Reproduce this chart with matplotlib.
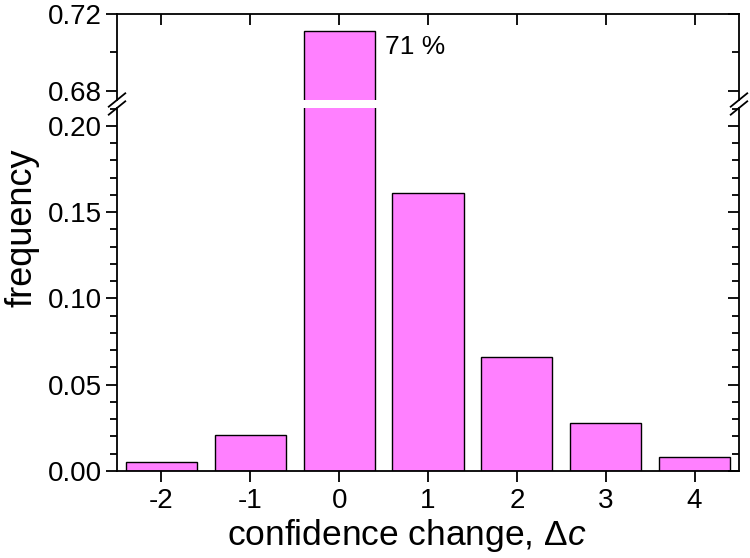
"""
Histogram of confidence change with a broken y axis.
"""
import matplotlib
matplotlib.use("Agg")
import matplotlib.pyplot as plt
from matplotlib.ticker import MultipleLocator, FormatStrFormatter
from matplotlib.lines import Line2D, TICKLEFT

# ─── Data ───────────────────────────────────────────────────────────────────
delta_c   = [-2, -1, 0, 1, 2, 3, 4]
frequency = [0.005, 0.021, 0.711, 0.161, 0.066, 0.028, 0.008]
peak_label = "71 %"

BAR_COLOR = "#FF80FF"

plt.rcParams["font.family"] = ["Liberation Sans", "DejaVu Sans"]
plt.rcParams["mathtext.fontset"] = "custom"
plt.rcParams["mathtext.rm"] = "Liberation Sans"
plt.rcParams["mathtext.it"] = "Liberation Sans:italic"

fig = plt.figure(figsize=(7.5, 5.58), dpi=100)
ax_top = fig.add_axes([0.156, 0.8208, 0.8293, 0.1541])
ax_bot = fig.add_axes([0.156, 0.1559, 0.8293, 0.6506])

for ax in (ax_top, ax_bot):
    ax.bar(delta_c, frequency, width=0.8, color=BAR_COLOR,
           edgecolor="black", linewidth=1)
    ax.set_xlim(-2.5, 4.5)
    for sp in ax.spines.values():
        sp.set_linewidth(1.3)
    ax.tick_params(axis="y", which="major", direction="out", length=8,
                   width=1.3, labelsize=20, right=True, pad=3)
    ax.tick_params(axis="y", which="minor", direction="out", length=5,
                   width=1.3, right=True)
    ax.yaxis.set_major_formatter(FormatStrFormatter("%.2f"))

# upper part
ax_top.set_ylim(0.6753, 0.72)
ax_top.set_yticks([0.68, 0.72])
ax_top.yaxis.set_minor_locator(MultipleLocator(0.02))
ax_top.spines["bottom"].set_visible(False)
ax_top.tick_params(axis="x", bottom=False, labelbottom=False, top=True,
                   direction="in", length=8, width=1.3)
ax_top.set_xticks(delta_c)
ax_top.text(0.52, 0.7029, peak_label, fontsize=19, ha="left", va="center")

# lower part
ax_bot.set_ylim(0, 0.2104)
ax_bot.set_yticks([0.00, 0.05, 0.10, 0.15, 0.20])
ax_bot.yaxis.set_minor_locator(MultipleLocator(0.01))
ax_bot.spines["top"].set_visible(False)
ax_bot.set_xticks(delta_c)
ax_bot.set_xticklabels([str(v) for v in delta_c])
ax_bot.tick_params(axis="x", direction="out", length=8, width=1.3,
                   labelsize=20, pad=4)

# right spine ticks point inwards
for ax in (ax_top, ax_bot):
    for t in ax.yaxis.get_major_ticks() + ax.yaxis.get_minor_ticks():
        t.tick2line.set_marker(TICKLEFT)

ax_bot.set_xlabel(r"confidence change, $\Delta\mathit{c}$", fontsize=25.5,
                  labelpad=0)
ax_bot.xaxis.set_label_coords(0.466, -0.127)
ax_bot.set_ylabel("frequency", fontsize=26)
ax_bot.yaxis.set_label_coords(-0.125, 0.67)

# break marks on both spines
for xf in (0.156, 0.156 + 0.8293):
    for yp in (100, 108):
        y = 1 - yp / 558
        fig.add_artist(Line2D([xf - 0.011, xf + 0.011], [y - 0.012, y + 0.012],
                              color="black", linewidth=1.3))

plt.savefig("out.png", dpi=100)
plt.close()
